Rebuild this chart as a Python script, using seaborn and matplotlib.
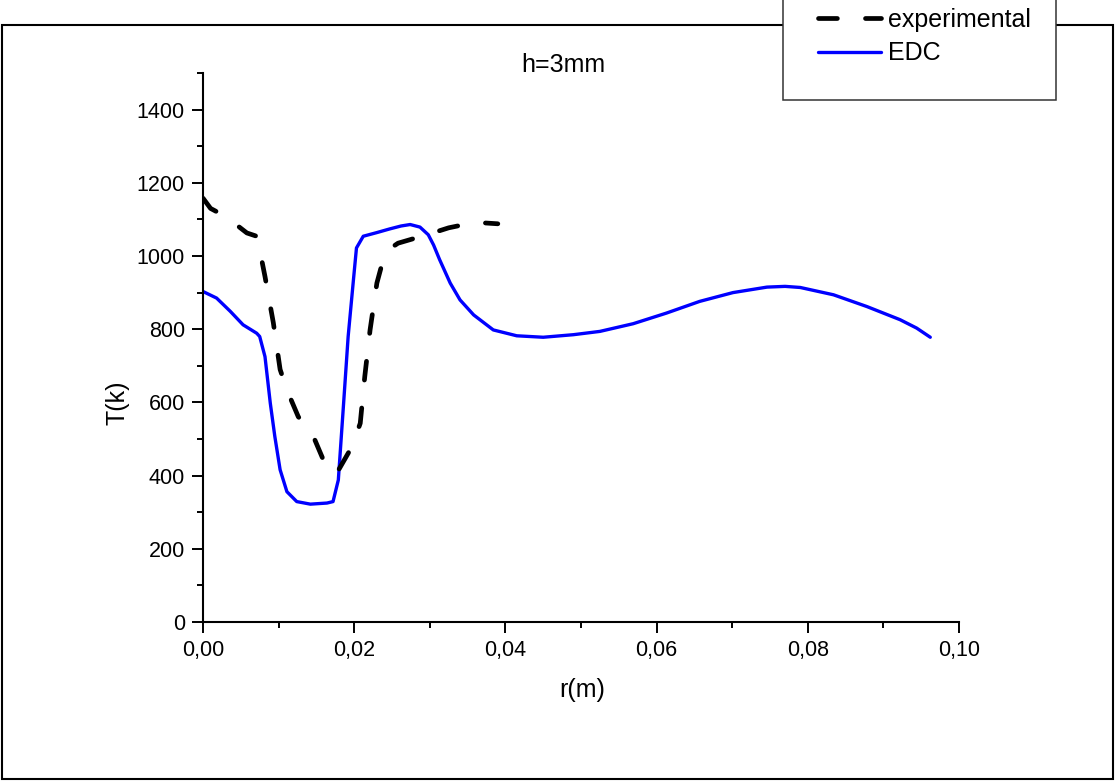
import matplotlib
matplotlib.use("Agg")
import matplotlib.pyplot as plt
from matplotlib.patches import Rectangle
from matplotlib.ticker import MultipleLocator, FixedLocator, FixedFormatter
import seaborn as sns
import pandas as pd

# ---- data ----
r_exp = [0.000, 0.001, 0.003, 0.0058, 0.0071, 0.0075, 0.0082, 0.0093, 0.0102, 0.0111,
         0.0126, 0.0146, 0.0161, 0.0164, 0.0177, 0.0197, 0.0208, 0.0214, 0.0221, 0.0230,
         0.0239, 0.0250, 0.0258, 0.0296, 0.0325, 0.0360, 0.0390]
T_exp = [1158, 1130, 1108, 1063, 1054, 1017, 944, 818, 690, 634,
         561, 507, 434, 416, 407, 479, 543, 671, 798, 926,
         995, 1024, 1035, 1058, 1077, 1092, 1088]

r_edc = [0.0, 0.0018, 0.0036, 0.0053, 0.0071, 0.0075, 0.0082, 0.0089, 0.0095, 0.0102,
         0.0111, 0.0124, 0.0142, 0.0164, 0.0172, 0.0179, 0.0186, 0.0192, 0.0199, 0.0203,
         0.0212, 0.0230, 0.0247, 0.0262, 0.0274, 0.0287, 0.0298, 0.0305, 0.0313, 0.0327,
         0.0340, 0.0358, 0.0384, 0.0415, 0.0450, 0.0490, 0.0525, 0.0569, 0.0613, 0.0657,
         0.0701, 0.0746, 0.0770, 0.0790, 0.0834, 0.0878, 0.0922, 0.0944, 0.0962]
T_edc = [903, 885, 849, 812, 789, 780, 725, 598, 507, 416,
         356, 329, 322, 325, 329, 388, 598, 780, 935, 1022,
         1054, 1064, 1074, 1082, 1086, 1079, 1058, 1030, 990, 926,
         880, 839, 798, 782, 778, 785, 794, 815, 844, 876,
         900, 915, 917, 914, 894, 862, 826, 803, 778]

x_ticks = [0.00, 0.02, 0.04, 0.06, 0.08, 0.10]
x_tick_labels = ["0,00", "0,02", "0,04", "0,06", "0,08", "0,10"]
y_ticks = [0, 200, 400, 600, 800, 1000, 1200, 1400]
y_tick_labels = ["0", "200", "400", "600", "800", "1000", "1200", "1400"]

series_names = ["experimental", "EDC"]
title_text = "h=3mm"
x_label = "r(m)"
y_label = "T(k)"

# ---- style ----
sns.set_style("white")
plt.rcParams["font.family"] = ["Liberation Sans", "DejaVu Sans"]
plt.rcParams["text.color"] = "black"
plt.rcParams["axes.labelcolor"] = "black"
plt.rcParams["xtick.color"] = "black"
plt.rcParams["ytick.color"] = "black"

W, H = 1117, 782
fig = plt.figure(figsize=(W / 100, H / 100), dpi=100)
ax = fig.add_axes([203 / W, (H - 622) / H, (959 - 203) / W, (622 - 73) / H])

df_exp = pd.DataFrame({"r": r_exp, "T": T_exp})
df_edc = pd.DataFrame({"r": r_edc, "T": T_edc})

sns.lineplot(data=df_edc, x="r", y="T", ax=ax, color="#0000ff", lw=2.4,
             estimator=None, sort=False, label=series_names[1])
sns.lineplot(data=df_exp, x="r", y="T", ax=ax, color="black", lw=3.4,
             estimator=None, sort=False, label=series_names[0],
             linestyle=(0, (4.0, 5.95)), dash_capstyle="round",
             solid_joinstyle="round")

ax.set_xlim(0, 0.10)
ax.set_ylim(0, 1500)
ax.xaxis.set_major_locator(FixedLocator(x_ticks))
ax.xaxis.set_major_formatter(FixedFormatter(x_tick_labels))
ax.yaxis.set_major_locator(FixedLocator(y_ticks))
ax.yaxis.set_major_formatter(FixedFormatter(y_tick_labels))
ax.xaxis.set_minor_locator(MultipleLocator(0.01))
ax.yaxis.set_minor_locator(MultipleLocator(100))

for side in ["top", "right"]:
    ax.spines[side].set_visible(False)
for side in ["left", "bottom"]:
    ax.spines[side].set_linewidth(1.5)
    ax.spines[side].set_color("black")

ax.tick_params(which="major", direction="out", length=8, width=1.4, color="black",
               labelsize=15.5, pad=5, left=True, bottom=True, labelcolor="black")
ax.tick_params(which="minor", direction="out", length=4.5, width=1.4, color="black",
               left=True, bottom=True)

ax.set_xlabel(x_label, fontsize=18, va="center")
ax.set_ylabel(y_label, fontsize=18, va="center")
ax.xaxis.set_label_coords(0.501, (622 - 690) / 549)
ax.yaxis.set_label_coords((118 - 203) / 756, 0.40)

ax.get_legend().remove()

# outer frame
fig.add_artist(Rectangle((2 / W, 3 / H), (1113 - 2) / W, (779 - 25) / H,
                         transform=fig.transFigure, fill=False, lw=1.5,
                         ec="black", zorder=5))

# title
fig.text(563 / W, 1 - 65 / H, title_text, ha="center", va="center", fontsize=18)

# legend box
fig.add_artist(Rectangle((783 / W, (H - 100) / H), (1056 - 783) / W, 110 / H,
                         transform=fig.transFigure, facecolor="white",
                         ec="#333333", lw=1.1, zorder=6))
handles, labels = ax.get_legend_handles_labels()
order = [labels.index(n) for n in series_names]
leg = fig.legend([handles[i] for i in order], [labels[i] for i in order],
                 loc="upper left", bbox_to_anchor=(818 / W, 1 - 8 / H),
                 frameon=False, fontsize=18, handlelength=2.5,
                 handletextpad=0.3, labelspacing=0.38, borderpad=0,
                 borderaxespad=0)
leg.set_zorder(7)

fig.savefig("out.png", dpi=100)
